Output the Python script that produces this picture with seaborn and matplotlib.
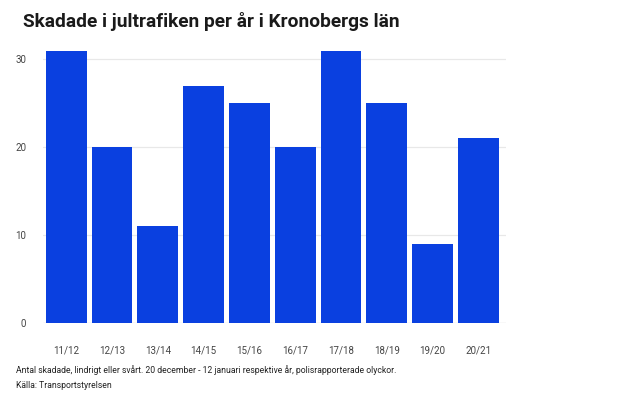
import matplotlib
matplotlib.use("Agg")
import matplotlib.pyplot as plt
import seaborn as sns
import pandas as pd

seasons = ["11/12", "12/13", "13/14", "14/15", "15/16", "16/17", "17/18", "18/19", "19/20", "20/21"]
injured = [31, 20, 11, 27, 25, 20, 31, 25, 9, 21]
y_ticks = [0, 10, 20, 30]

title = "Skadade i jultrafiken per år i Kronobergs län"
note = "Antal skadade, lindrigt eller svårt. 20 december - 12 januari respektive år, polisrapporterade olyckor."
source = "Källa: Transportstyrelsen"

df = pd.DataFrame({"season": seasons, "injured": injured})

sns.set_theme(style="white")
plt.rcParams["font.family"] = ["Roboto", "DejaVu Sans"]

fig = plt.figure(figsize=(6.2, 3.97), dpi=100)
ax = fig.add_axes([0.069, 0.186, 0.747, 0.70])

sns.barplot(data=df, x="season", y="injured", color="#0a40e0", saturation=1,
            width=0.89, linewidth=0, ax=ax, zorder=3)

ax.set_xlim(-0.51, 9.6)
ax.set_ylim(0, 31.6)
ax.set_yticks(y_ticks)
ax.yaxis.grid(True, color="#e8e8e8", linewidth=0.9, zorder=0)
ax.set_axisbelow(True)
for s in ax.spines.values():
    s.set_visible(False)
ax.axhline(0, color="#e0e0e0", linewidth=0.9, zorder=1)
ax.set_xlabel("")
ax.set_ylabel("")
ax.tick_params(axis="both", length=0, labelsize=7, colors="#444444")
ax.tick_params(axis="x", pad=16)
ax.tick_params(axis="y", pad=12)

fig.text(23 / 620, 1 - 27 / 397, title, fontsize=13.8, fontweight="bold",
         color="#1a1a1a", ha="left", va="baseline")
fig.text(16 / 620, 1 - 370 / 397, note, fontsize=6.2, color="#222222",
         ha="left", va="center")
fig.text(16 / 620, 1 - 386 / 397, source, fontsize=6.2, color="#222222",
         ha="left", va="center")

fig.savefig("out.png", dpi=100)
